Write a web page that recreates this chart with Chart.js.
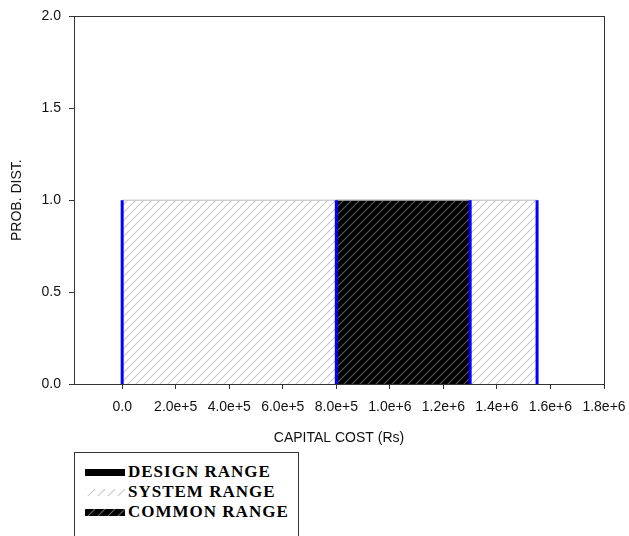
<!DOCTYPE html>
<html>
<head>
<meta charset="utf-8">
<script src="https://cdn.jsdelivr.net/npm/chart.js@4"></script>
<style>
  html, body { margin: 0; padding: 0; background: #fff; overflow: hidden; }
  #wrap { position: relative; width: 629px; height: 536px; }
  #legend {
    position: absolute; left: 74px; top: 452px; width: 225px; height: 120px;
    border: 1px solid #333; box-sizing: border-box; background: #fff;
    font: bold 17px "Liberation Serif", "Times New Roman", serif; color: #000;
    letter-spacing: 1px;
  }
  .row { position: absolute; left: 0; height: 20px; line-height: 20px; white-space: nowrap; }
  .row canvas { position: absolute; left: 10px; top: 7px; }
  .row span { position: absolute; left: 53px; top: 0; }
</style>
</head>
<body>
<div id="wrap">
  <canvas id="chart" width="629" height="536"></canvas>
  <div id="legend"></div>
</div>
<script>
// data
const xTicks = [0, 2e5, 4e5, 6e5, 8e5, 1.0e6, 1.2e6, 1.4e6, 1.6e6, 1.8e6];
const yTicks = [0, 0.5, 1.0, 1.5, 2.0];
const systemRange = [0, 1.55e6];
const designRange = [8e5, 1.3e6];
const commonRange = [8e5, 1.3e6];
const probHeight  = 1.0;
const boundaries  = [0, 8e5, 1.3e6, 1.55e6];
const legendNames = ['DESIGN RANGE', 'SYSTEM RANGE', 'COMMON RANGE'];

const AXIS = '#333';
const SANS = '"Liberation Sans", Arial, sans-serif';

/** diagonal "/" hatch pattern */
function hatch(bg, fg, size) {
    const c = document.createElement('canvas');
    c.width = size; c.height = size;
    const g = c.getContext('2d');
    g.fillStyle = bg;
    g.fillRect(0, 0, size, size);
    g.strokeStyle = fg;
    g.lineWidth = 1.1;
    g.beginPath();
    g.moveTo(-1, size + 1); g.lineTo(size + 1, -1);
    g.moveTo(-1, 1);        g.lineTo(1, -1);
    g.moveTo(size - 1, size + 1); g.lineTo(size + 1, size - 1);
    g.stroke();
    return g.createPattern(c, 'repeat');
}

const systemFill = hatch('#fff', '#c8c8c8', 8);
const commonFill = hatch('#000', '#5a5a5a', 8);

// rectangle outline from a range, height from data
const rect = (r, h) => [{ x: r[0], y: 0 }, { x: r[0], y: h }, { x: r[1], y: h }, { x: r[1], y: 0 }];

const fmtX = v => v === 0 ? '0.0' : Number(v).toExponential(1);

const boxPlugin = {
    id: 'box',
    afterDatasetsDraw(chart) {
        const { ctx, chartArea: a } = chart;
        ctx.save();
        ctx.strokeStyle = AXIS;
        ctx.lineWidth = 1;
        ctx.strokeRect(Math.round(a.left) + 0.5, Math.round(a.top) + 0.5,
                       Math.round(a.right - a.left), Math.round(a.bottom - a.top));
        ctx.restore();
    }
};

const blueLines = boundaries.map(b => ({
    data: [{ x: b, y: 0 }, { x: b, y: probHeight }],
    borderColor: '#0000ff',
    borderWidth: 3,
    pointRadius: 0,
    fill: false,
    order: 0
}));

new Chart(document.getElementById('chart'), {
    type: 'line',
    data: {
        datasets: [
            ...blueLines,
            {
                label: 'COMMON RANGE',
                data: rect(commonRange, probHeight),
                backgroundColor: commonFill,
                borderColor: '#bdbdbd',
                borderWidth: 1,
                pointRadius: 0,
                fill: 'origin',
                order: 1
            },
            {
                label: 'DESIGN RANGE',
                data: rect(designRange, probHeight),
                backgroundColor: '#000',
                borderColor: '#bdbdbd',
                borderWidth: 1,
                pointRadius: 0,
                fill: 'origin',
                order: 2
            },
            {
                label: 'SYSTEM RANGE',
                data: rect(systemRange, probHeight),
                backgroundColor: systemFill,
                borderColor: '#bdbdbd',
                borderWidth: 1,
                pointRadius: 0,
                fill: 'origin',
                order: 3
            }
        ]
    },
    options: {
        responsive: false,
        animation: false,
        devicePixelRatio: 1,
        layout: { padding: { top: 14, right: 25, left: 0, bottom: 0 } },
        plugins: { legend: { display: false }, tooltip: { enabled: false } },
        elements: { line: { tension: 0 } },
        scales: {
            x: {
                type: 'linear',
                position: 'bottom',
                min: -1.8e5,
                max: 1.8e6,
                afterBuildTicks: s => { s.ticks = xTicks.map(v => ({ value: v })); },
                afterFit: s => { s.height = 152; s.paddingRight = 0; s.paddingLeft = 0; },
                ticks: {
                    callback: fmtX,
                    autoSkip: false,
                    maxRotation: 0,
                    padding: 10,
                    color: '#111',
                    font: { family: SANS, size: 14 }
                },
                grid: { drawOnChartArea: false, drawTicks: true, tickLength: 5, color: AXIS },
                border: { display: true, color: AXIS },
                title: {
                    display: true,
                    text: 'CAPITAL COST (Rs)',
                    color: '#111',
                    font: { family: SANS, size: 14 },
                    padding: { top: 0, bottom: 89 }
                }
            },
            y: {
                type: 'linear',
                min: 0,
                max: 2,
                afterBuildTicks: s => { s.ticks = yTicks.map(v => ({ value: v })); },
                afterFit: s => { s.width = 74; },
                ticks: {
                    callback: v => Number(v).toFixed(1),
                    padding: 8,
                    color: '#111',
                    font: { family: SANS, size: 14 }
                },
                grid: { drawOnChartArea: false, drawTicks: true, tickLength: 5, color: AXIS },
                border: { display: true, color: AXIS },
                title: {
                    display: true,
                    text: 'PROB. DIST.',
                    color: '#111',
                    font: { family: SANS, size: 14 },
                    padding: { top: 8.6, bottom: 0 }
                }
            }
        }
    },
    plugins: [boxPlugin]
});

// legend (HTML, swatches drawn with the same fills)
const swatchFills = ['#000', hatch('#fff', '#c8c8c8', 10), hatch('#000', '#666', 10)];
const legend = document.getElementById('legend');
legendNames.forEach((name, i) => {
    const row = document.createElement('div');
    row.className = 'row';
    row.style.top = (9 + i * 20) + 'px';
    const sw = document.createElement('canvas');
    sw.width = 40; sw.height = 7;
    const g = sw.getContext('2d');
    g.fillStyle = swatchFills[i];
    g.fillRect(0, 0, 40, 7);
    const label = document.createElement('span');
    label.textContent = name;
    row.appendChild(sw);
    row.appendChild(label);
    legend.appendChild(row);
});
</script>
</body>
</html>
